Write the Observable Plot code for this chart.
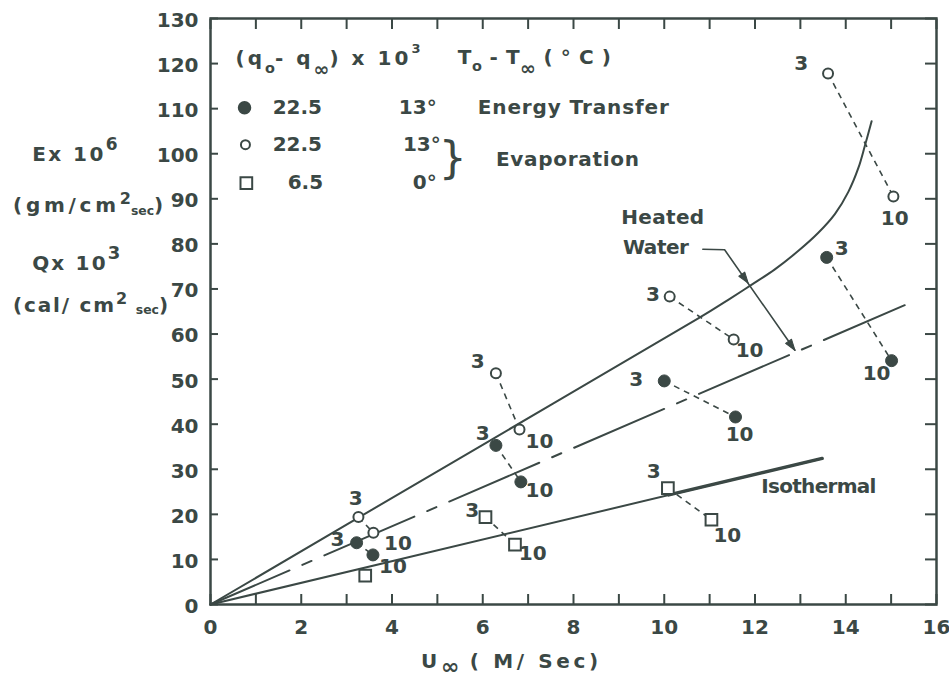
<!DOCTYPE html>
<html><head><meta charset="utf-8">
<script src="https://cdn.jsdelivr.net/npm/d3@7"></script>
<script src="https://cdn.jsdelivr.net/npm/@observablehq/plot@0.6"></script>
<style>body{margin:0;background:#fff}</style>
</head><body><div id="chart"></div>
<script>
const ink = "#3b4845";

// Axis ticks
const xTicks = d3.range(0, 17, 1);
const xLabels = d3.range(0, 17, 2);
const yTicks = d3.range(0, 131, 10);

// Energy transfer, heated water (filled circles): U (m/s), Q x 10^3, run
const energyU = [3.22, 3.58, 6.29, 6.84, 10.0, 11.57, 13.58, 15.01];
const energyQ = [13.7, 11.0, 35.3, 27.2, 49.6, 41.6, 77.0, 54.1];
const energyRun = [1, 1, 2, 2, 3, 3, 4, 4];

// Evaporation, heated water 22.5 / 13° (open circles)
const evapHotU = [3.26, 3.59, 6.29, 6.81, 10.12, 11.53, 13.61, 15.05];
const evapHotE = [19.4, 15.9, 51.3, 38.8, 68.3, 58.8, 117.8, 90.5];
const evapHotRun = [1, 1, 2, 2, 3, 3, 4, 4];

// Evaporation, isothermal 6.5 / 0° (open squares)
const evapIsoU = [3.41, 6.06, 6.71, 10.08, 11.04];
const evapIsoE = [6.4, 19.4, 13.3, 25.8, 18.8];
const evapIsoRun = [0, 2, 2, 3, 3];

// Height labels (3 / 10) placed next to the points
const labelText = ["3","3","10","10","3","10","3","10","3","10","3","10","3","10","3","10","3","10","3","10"];
const labelU = [3.2, 2.8, 4.13, 4.02, 5.89, 7.25, 6.0, 7.25, 5.77, 7.1, 9.75, 11.88, 9.38, 11.66, 9.77, 11.39, 13.91, 14.68, 13.02, 15.08];
const labelV = [23.6, 14.4, 13.6, 8.4, 53.8, 36.1, 37.9, 25.3, 20.9, 11.3, 68.7, 56.4, 49.9, 37.6, 29.4, 15.3, 79.0, 51.3, 120.1, 85.7];

// Fitted curves
const heatedEvapU = [0, 6.3, 10.74, 11.41, 11.92, 12.43, 12.95, 13.39, 13.76, 14.06, 14.28, 14.42, 14.57];
const heatedEvapV = [0, 37.2, 63.4, 67.6, 70.9, 74.3, 78.4, 82.4, 86.6, 91.6, 96.9, 101.7, 107.2];
const energyLineU = [0, 15.3];
const energyLineV = [0, 66.4];
const isoLineU = [0, 13.48];
const isoLineV = [0, 32.4];
const isoThickU = [10.1, 13.48];
const isoThickV = [24.3, 32.4];

// "Heated Water" leader
const leaderU = [10.85, 11.33, 12.88];
const leaderV = [78.8, 78.7, 56.4];
const arrowU = [11.85, 12.88];
const arrowV = [71.3, 56.4];

// Legend
const legendQ = ["22.5", "22.5", "6.5"];
const legendT = ["13°", "13°", "0°"];

const pts = (U, V, R) => U.map((u, i) => ({u, v: V[i], run: R[i]}));
const energy = pts(energyU, energyQ, energyRun);
const evapHot = pts(evapHotU, evapHotE, evapHotRun);
const evapIso = pts(evapIsoU, evapIsoE, evapIsoRun);
const pairs = [];
for (const set of [energy, evapHot, evapIso]) {
  for (const [run, g] of d3.group(set, d => d.run)) if (g.length === 2) pairs.push({u1: g[0].u, v1: g[0].v, u2: g[1].u, v2: g[1].v});
}
const line = (U, V) => U.map((u, i) => ({u, v: V[i]}));
const labels = labelText.map((t, i) => ({t, u: labelU[i], v: labelV[i]}));

const triangle = {draw(ctx, l) { ctx.moveTo(0, 0); ctx.lineTo(-l * 0.33, l); ctx.lineTo(l * 0.33, l); ctx.closePath(); }};

const legendRows = [110.2, 102.0, 93.5];
const ann = {fontSize: 20, textAnchor: "start"};

// text markup (^ raised, _ lowered) and the width (px) each lettering is spread to
const T = {
  qHead: "(q_[0.38]{o}- q_[0.55,0.95]{∞}) x 10^[-0.6,0.65]{3}",
  tHead: "T_[0.38]{o} - T_[0.55,0.95]{∞} ( ° C )",
  eTitle: "Ex 10^[-0.55,0.85]{6}",
  eUnit: "(gm/cm^[-0.4,0.8]{2}_[0.12,0.62]{sec})",
  qTitle: "Qx 10^[-0.55,0.9]{3}",
  qUnit: "(cal/ cm^[-0.4,0.8]{2} _[0.12,0.62]{sec})",
  xTitle: "U_[0.32,1.1]{∞} ( M/ Sec)"
};
const fitWidth = new Map([
  [T.qHead, 182], [T.tHead, 153],
  ["Energy Transfer", 191], ["Evaporation", 143],
  ["Heated", 83], ["Water", 66], ["Isothermal", 115],
  [T.eTitle, 83], [T.eUnit, 150], [T.qTitle, 86], [T.qUnit, 155], [T.xTitle, 177]
]);

const plot = Plot.plot({
  width: 949, height: 677,
  marginLeft: 210, marginRight: 13, marginTop: 18, marginBottom: 73,
  x: {domain: [0, 16]},
  y: {domain: [0, 130]},
  style: {fontFamily: "DejaVu Sans", fontWeight: "bold", color: ink, background: "white", overflow: "visible"},
  marks: [
    Plot.frame({stroke: ink, strokeWidth: 2.5}),
    Plot.axisX(xTicks, {anchor: "bottom", tickSize: -10, text: null, strokeWidth: 2, label: null}),
    Plot.axisX(xTicks, {anchor: "top", tickSize: -10, text: null, strokeWidth: 2, label: null}),
    Plot.axisY(yTicks, {anchor: "left", tickSize: -8, text: null, strokeWidth: 2, label: null}),
    Plot.axisY(yTicks, {anchor: "right", tickSize: -12, text: null, strokeWidth: 2, label: null}),
    Plot.axisX(xLabels, {anchor: "bottom", tickSize: 0, tickPadding: 15, fontSize: 20, label: null}),
    Plot.axisY(yTicks, {anchor: "left", tickSize: 0, tickPadding: 12, fontSize: 20, dy: 2, label: null}),

    Plot.line(line(heatedEvapU, heatedEvapV), {x: "u", y: "v", curve: "catmull-rom", stroke: ink, strokeWidth: 2}),
    Plot.line(line(energyLineU, energyLineV), {x: "u", y: "v", stroke: ink, strokeWidth: 2, strokeDasharray: "98,14,10,14", strokeDashoffset: 12}),
    Plot.line(line(isoLineU, isoLineV), {x: "u", y: "v", stroke: ink, strokeWidth: 2}),
    Plot.line(line(isoThickU, isoThickV), {x: "u", y: "v", stroke: ink, strokeWidth: 3.4}),

    Plot.link(pairs, {x1: "u1", y1: "v1", x2: "u2", y2: "v2", stroke: ink, strokeWidth: 1.6, strokeDasharray: "6,5"}),

    Plot.dot(energy, {x: "u", y: "v", r: 6, fill: ink, stroke: ink, strokeWidth: 1}),
    Plot.dot(evapHot, {x: "u", y: "v", r: 5, fill: "white", stroke: ink, strokeWidth: 2}),
    Plot.dot(evapIso, {x: "u", y: "v", r: 6.6, symbol: "square", fill: "white", stroke: ink, strokeWidth: 2}),

    Plot.text(labels, {x: "u", y: "v", text: "t", fontSize: 20}),

    // Heated water leader and arrowheads
    Plot.line(line(leaderU, leaderV), {x: "u", y: "v", stroke: ink, strokeWidth: 1.6}),
    Plot.vector(line(arrowU, arrowV), {x: "u", y: "v", rotate: 144.5, length: 11, anchor: "start", shape: triangle, fill: ink, stroke: ink, strokeWidth: 1}),
    Plot.text(["Heated"], {x: 9.05, y: 85.9, ...ann}),
    Plot.text(["Water"], {x: 9.09, y: 79.1, ...ann}),
    Plot.text(["Isothermal"], {x: 12.14, y: 26.2, ...ann}),

    // Legend
    Plot.text([T.qHead], {x: 0.55, y: 121, ...ann}),
    Plot.text([T.tHead], {x: 5.45, y: 121.4, ...ann}),
    Plot.dot([0], {x: 0.75, y: legendRows[0], r: 6, fill: ink, stroke: ink}),
    Plot.dot([0], {x: 0.77, y: legendRows[1], r: 4.5, fill: "white", stroke: ink, strokeWidth: 2}),
    Plot.dot([0], {x: 0.79, y: legendRows[2], r: 6.6, symbol: "square", fill: "white", stroke: ink, strokeWidth: 2}),
    Plot.text(legendQ, {x: (d, i) => [1.37, 1.37, 1.7][i], y: (d, i) => legendRows[i], ...ann, letterSpacing: 2}),
    Plot.text(legendT, {x: (d, i) => [4.15, 4.24, 4.46][i], y: (d, i) => legendRows[i], ...ann, letterSpacing: 2}),
    Plot.text(["Energy Transfer"], {x: 5.89, y: legendRows[0], ...ann}),
    Plot.text(["}"], {x: 5.34, y: 98.8, fontSize: 44, fontWeight: "normal"}),
    Plot.text(["Evaporation"], {x: 6.29, y: 98.7, ...ann}),

    // Axis titles
    Plot.text([T.eTitle], {x: -3.93, y: 99.8, ...ann}),
    Plot.text([T.eUnit], {x: -4.35, y: 88.4, ...ann}),
    Plot.text([T.qTitle], {x: -3.93, y: 75.6, ...ann}),
    Plot.text([T.qUnit], {x: -4.35, y: 66.4, ...ann}),
    Plot.text([T.xTitle], {x: 4.64, y: -12.6, ...ann})
  ]
});

// markup: ^[shift,size,dx]{sup}  _[shift,size,dx]{sub}  (shift/dx in em of the base size)
function richText(svg) {
  const re = /([\^_])(?:\[([-\d.,]+)\])?\{([^}]*)\}/g;
  svg.querySelectorAll("text").forEach(t => {
    const s = t.textContent;
    t.setAttribute("data-src", s);
    if (!/[\^_](\[[-\d.,]+\])?\{/.test(s)) return;
    const parts = []; let last = 0, m;
    re.lastIndex = 0;
    while ((m = re.exec(s))) {
      if (m.index > last) parts.push({t: s.slice(last, m.index), shift: 0, size: 1, dx: 0, small: false});
      const sup = m[1] === "^";
      const a = m[2] ? m[2].split(",").map(Number) : [];
      parts.push({t: m[3], shift: a[0] ?? (sup ? -0.42 : 0.38), size: a[1] ?? 0.72, dx: a[2] ?? 0, small: true});
      last = re.lastIndex;
    }
    if (last < s.length) parts.push({t: s.slice(last), shift: 0, size: 1, dx: 0, small: false});
    t.textContent = "";
    let cur = 0;
    for (const p of parts) {
      const ts = document.createElementNS("http://www.w3.org/2000/svg", "tspan");
      if (p.size !== 1) ts.setAttribute("font-size", (p.size * 100) + "%");
      if (p.small) ts.setAttribute("data-small", "1");
      const d = (p.shift - cur) / p.size;
      if (d) ts.setAttribute("dy", d.toFixed(3) + "em");
      if (p.dx) ts.setAttribute("dx", (p.dx / p.size).toFixed(3) + "em");
      ts.textContent = p.t;
      t.appendChild(ts);
      cur = p.shift;
    }
  });
}

function fitText(svg) {
  svg.querySelectorAll("text").forEach(t => {
    const w = fitWidth.get(t.getAttribute("data-src"));
    if (!w) return;
    const spans = [...t.querySelectorAll("tspan")];
    const small = spans.filter(s => s.hasAttribute("data-small"));
    const normal = spans.length ? spans.filter(s => !s.hasAttribute("data-small")) : [t];
    t.style.letterSpacing = "0px";
    small.forEach(s => s.style.letterSpacing = "0px");
    const L = t.getComputedTextLength();
    const n = normal.reduce((a, s) => a + s.textContent.length, 0);
    t.style.letterSpacing = ((w - L) / Math.max(1, n - 1)).toFixed(2) + "px";
  });
}

document.getElementById("chart").appendChild(plot);
richText(plot);
fitText(plot);
</script>
</body></html>
